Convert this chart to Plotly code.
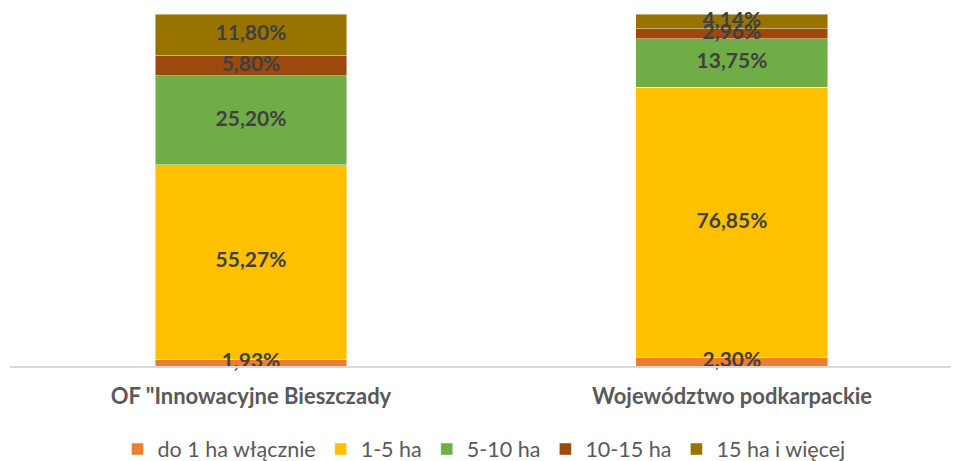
import plotly.graph_objects as go
import numpy as np

categories = ['OF "Innowacyjne Bieszczady', 'Województwo podkarpackie']
series_names = ["do 1 ha włącznie", "1-5 ha", "5-10 ha", "10-15 ha", "15 ha i więcej"]
do1 = [1.93, 2.30]
ha1_5 = [55.27, 76.85]
ha5_10 = [25.20, 13.75]
ha10_15 = [5.80, 2.96]
ha15plus = [11.80, 4.14]
labels_do1 = ["1,93%", "2,30%"]
labels_1_5 = ["55,27%", "76,85%"]
labels_5_10 = ["25,20%", "13,75%"]
labels_10_15 = ["5,80%", "2,96%"]
labels_15 = ["11,80%", "4,14%"]

colors = ["#ED7D31", "#FFC000", "#70AD47", "#9E480E", "#997300"]
series = [do1, ha1_5, ha5_10, ha10_15, ha15plus]
labels = [labels_do1, labels_1_5, labels_5_10, labels_10_15, labels_15]

fig = go.Figure()
x_idx = [0, 1]
for name, vals, col in zip(series_names, series, colors):
    fig.add_trace(go.Bar(
        x=x_idx, y=vals, name=name, width=0.399,
        marker=dict(color=col, line=dict(color="rgba(255,255,255,0.6)", width=0.75)),
        hoverinfo="skip",
    ))

# data labels at segment midpoints
cum = np.zeros(2)
for vals, labs in zip(series, labels):
    v = np.array(vals)
    mid = cum + v / 2
    cum = cum + v
    fig.add_trace(go.Scatter(
        x=x_idx, y=mid, mode="text", text=labs, showlegend=False,
        textfont=dict(family="Lato", size=21, color="#404040", weight="bold"),
        hoverinfo="skip", cliponaxis=False,
    ))

fig.update_layout(
    barmode="stack",
    width=951, height=453,
    margin=dict(l=2, r=1, t=6, b=95, autoexpand=False),
    paper_bgcolor="white", plot_bgcolor="white",
    showlegend=True,
    legend=dict(orientation="h", x=0.5, xanchor="center", y=-0.236, yanchor="middle",
                traceorder="normal", font=dict(family="Lato", size=21.5, color="#595959"),
                itemwidth=30),
    xaxis=dict(range=[-0.501, 1.470], tickmode="array", tickvals=x_idx, ticktext=categories,
               showline=True, linecolor="#D9D9D9", linewidth=1.5, showgrid=False, zeroline=False,
               ticks="outside", ticklen=10, tickcolor="rgba(0,0,0,0)",
               tickfont=dict(family="Lato", size=22, color="#595959", weight="bold")),
    yaxis=dict(range=[0, 100], visible=False, showgrid=False, zeroline=False),
)

fig.write_html("out.html")
